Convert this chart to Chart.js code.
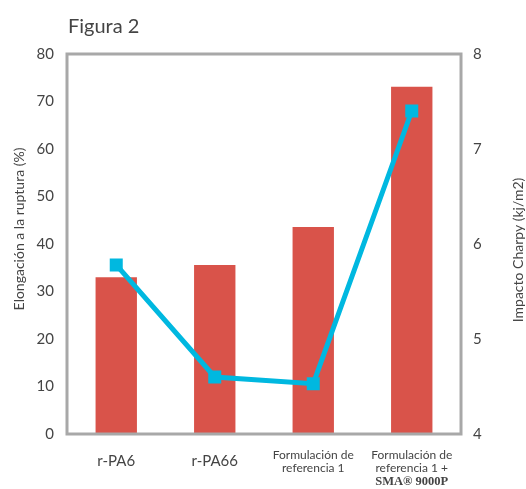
<!DOCTYPE html>
<html>
<head>
<meta charset="utf-8">
<script src="https://cdn.jsdelivr.net/npm/chart.js@4"></script>
<style>
  html, body { margin: 0; padding: 0; background: #fff; }
  #wrap { width: 526px; height: 489px; position: relative; }
</style>
</head>
<body>
<div id="wrap"><canvas id="c"></canvas></div>
<script>
// Materials compared
const categories = ['r-PA6', 'r-PA66', 'Formulación de referencia 1', 'Formulación de referencia 1 + SMA® 9000P'];
// Label lines under each bar (the last line of the last label is set in bold)
const labelLines = [
  ['r-PA6'],
  ['r-PA66'],
  ['Formulación de', 'referencia 1'],
  ['Formulación de', 'referencia 1 +', 'SMA® 9000P']
];
// Elongation at break (%), left axis
const elongation = [33.0, 35.6, 43.6, 73.1];
// Charpy impact (kJ/m2), right axis
const charpy = [5.78, 4.60, 4.53, 7.40];
// Axis ranges
const elongTicks = [0, 10, 20, 30, 40, 50, 60, 70, 80];
const charpyTicks = [4, 5, 6, 7, 8];

const RED = '#d9534a';
const CYAN = '#00b8e0';
const GREY = '#a8a8a8';
const TEXT = '#444444';
const FONT = 'Lato, "Open Sans", sans-serif';

const decorations = {
  id: 'decorations',
  afterDatasetsDraw(chart) {
    const { ctx, chartArea: a } = chart;
    ctx.save();
    ctx.strokeStyle = GREY;
    ctx.lineWidth = 3;
    ctx.strokeRect(a.left, a.top, a.right - a.left, a.bottom - a.top);
    ctx.restore();
  },
  afterDraw(chart) {
    const { ctx } = chart;
    const x = chart.scales.x;
    ctx.save();
    ctx.fillStyle = TEXT;
    ctx.textBaseline = 'middle';

    // Figure heading
    ctx.textAlign = 'left';
    ctx.font = '20px ' + FONT;
    ctx.fillText('Figura 2', 68, 27);

    // Category labels
    ctx.textAlign = 'center';
    labelLines.forEach((lines, i) => {
      const cx = x.getPixelForValue(i);
      if (lines.length === 1) {
        ctx.font = '15px ' + FONT;
        ctx.fillText(lines[0], cx, 461);
      } else {
        lines.forEach((ln, j) => {
          ctx.font = (j === 2) ? 'bold 12.5px "Liberation Serif", "DejaVu Serif", serif' : '12px ' + FONT;
          ctx.fillText(ln, cx, 455 + j * 13.5);
        });
      }
    });

    // Axis titles
    ctx.font = '14px ' + FONT;
    ctx.save();
    ctx.translate(19, 229);
    ctx.rotate(-Math.PI / 2);
    ctx.fillText('Elongación a la ruptura (%)', 0, 0);
    ctx.restore();
    ctx.save();
    ctx.translate(518, 250);
    ctx.rotate(-Math.PI / 2);
    ctx.fillText('Impacto Charpy (kj/m2)', 0, 0);
    ctx.restore();
    ctx.restore();
  }
};

new Chart(document.getElementById('c'), {
  data: {
    labels: categories,
    datasets: [
      {
        type: 'line',
        label: 'Impacto Charpy (kj/m2)',
        data: charpy,
        yAxisID: 'y1',
        borderColor: CYAN,
        backgroundColor: CYAN,
        borderWidth: 5,
        pointStyle: 'rect',
        pointRadius: 9.2,
        pointHoverRadius: 9.2,
        pointBorderWidth: 0,
        tension: 0,
        order: 0
      },
      {
        type: 'bar',
        label: 'Elongación a la ruptura (%)',
        data: elongation,
        yAxisID: 'y',
        backgroundColor: RED,
        borderWidth: 0,
        barPercentage: 0.42,
        categoryPercentage: 1,
        order: 1
      }
    ]
  },
  options: {
    responsive: true,
    maintainAspectRatio: false,
    animation: false,
    layout: { padding: { top: 54, left: 0, right: 0, bottom: 0 } },
    plugins: {
      legend: { display: false },
      tooltip: { enabled: false },
      title: { display: false }
    },
    scales: {
      x: {
        grid: { display: false },
        border: { display: false },
        ticks: { display: false },
        afterFit(s) { s.height = 55; }
      },
      y: {
        position: 'left',
        min: elongTicks[0],
        max: elongTicks[elongTicks.length - 1],
        grid: { display: false, drawTicks: false },
        border: { display: false },
        afterBuildTicks(s) { s.ticks = elongTicks.map(v => ({ value: v })); },
        ticks: { padding: 13, color: TEXT, font: { family: FONT, size: 15 } },
        afterFit(s) { s.width = 67; }
      },
      y1: {
        position: 'right',
        min: charpyTicks[0],
        max: charpyTicks[charpyTicks.length - 1],
        grid: { display: false, drawTicks: false },
        border: { display: false },
        afterBuildTicks(s) { s.ticks = charpyTicks.map(v => ({ value: v })); },
        ticks: { padding: 12, color: TEXT, font: { family: FONT, size: 15 } },
        afterFit(s) { s.width = 65; }
      }
    }
  },
  plugins: [decorations]
});
</script>
</body>
</html>
